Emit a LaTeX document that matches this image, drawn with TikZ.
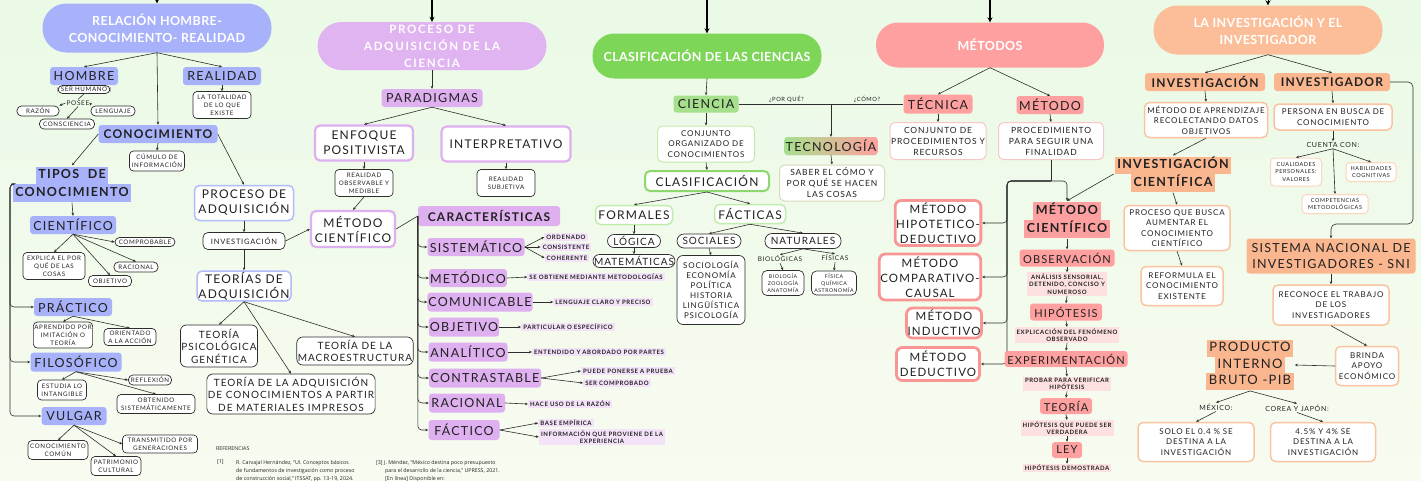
\documentclass[tikz,border=0pt]{standalone}
\usepackage{fontspec}
\usepackage{tikz}
\usetikzlibrary{arrows.meta}

\setmainfont{Lato}
\newfontfamily\labf[LetterSpace=10]{Lato}
\newfontfamily\ttlf[LetterSpace=3]{Lato}
\newfontfamily\ttlw[LetterSpace=15]{Lato}
\newfontfamily\reff{Open Sans}
\newcommand\fsz[2]{\fontsize{#1}{#2}\selectfont}
\newcommand\hb[2]{\colorbox{#1}{\strut\hspace{2.5pt}#2\hspace{2.5pt}}}
\setlength\fboxsep{0pt}

\definecolor{bgtop}{RGB}{234,250,230}
\definecolor{bgbot}{RGB}{248,251,240}
\definecolor{txt}{RGB}{34,34,34}
\definecolor{lc}{RGB}{45,45,45}
\definecolor{cblue}{RGB}{167,178,250}
\definecolor{cblueb}{RGB}{178,188,250}
\definecolor{cpurp}{RGB}{224,180,240}
\definecolor{cpurpb}{RGB}{222,176,240}
\definecolor{cpurpl}{RGB}{243,226,248}
\definecolor{cgreen}{RGB}{126,214,88}
\definecolor{cgreenl}{RGB}{166,224,140}
\definecolor{cgreenb}{RGB}{192,236,172}
\definecolor{cgreenm}{RGB}{140,216,110}
\definecolor{cpink}{RGB}{255,160,160}
\definecolor{cpinkb}{RGB}{247,198,198}
\definecolor{cpinkm}{RGB}{248,150,150}
\definecolor{cpinkl}{RGB}{253,224,224}
\definecolor{corng}{RGB}{252,190,152}
\definecolor{corngb}{RGB}{250,182,142}
\definecolor{corngl}{RGB}{250,196,160}

\tikzset{
  every node/.style={text=txt, align=center, inner sep=1pt},
  ttl/.style={fill=#1, rounded corners=22pt, text=white, font=\ttlf\bfseries\fsz{12.5}{17}},
  tag/.style={fill=#1, rounded corners=3pt, font=\labf\fsz{12.5}{15}, minimum height=18pt},
  tagb/.style={tag=#1, font=\labf\bfseries\fsz{12}{15}},
  wbox/.style={draw=#1, fill=white, line width=1.5pt, rounded corners=5pt, font=\labf\fsz{12}{15}},
  sbox/.style={draw=#1, fill=white, line width=1pt, rounded corners=5pt, font=\labf\fsz{8}{10.5}},
  dbox/.style={draw=lc, fill=white, line width=0.7pt, rounded corners=4pt, font=\labf\fsz{6.2}{8}},
  mbox/.style={dbox, font=\labf\fsz{10}{12.5}, rounded corners=6pt},
  pill/.style={dbox, rounded corners=4.5pt, inner ysep=0.5pt},
  hl/.style={fill=#1, font=\labf\bfseries\fsz{6}{7.5}, inner xsep=2pt, inner ysep=1.3pt},
  plain/.style={font=\labf\fsz{6.5}{8}},
  arr/.style={draw=lc, line width=0.6pt, -{Stealth[length=3pt,width=2.6pt]}},
  ln/.style={draw=lc, line width=0.6pt},
  toparr/.style={draw=black, line width=1.6pt, -{Stealth[length=5pt,width=5pt]}},
}

\begin{document}
\begin{tikzpicture}[x=1pt,y=-1pt]
\shade[top color=bgtop,bottom color=bgbot] (0,0) rectangle (1421,480);
\useasboundingbox (0,0) rectangle (1421,480);

% titles
\coordinate (top1) at (157,-6);
\coordinate (top2) at (432,-6);
\coordinate (top3) at (707,-6);
\coordinate (top4) at (990,-6);
\coordinate (top5) at (1268,-6);
\node[ttl=cblue,minimum width=229pt,minimum height=49pt,rounded corners=24pt] (t1) at (157,28) {RELACIÓN HOMBRE-\\CONOCIMIENTO- REALIDAD};
\node[ttl=cpurp,font=\ttlw\bfseries\fsz{11.5}{17},minimum width=229pt,minimum height=48pt,rounded corners=24pt] (t2) at (432,46) {PROCESO DE\\ADQUISICIÓN DE LA\\CIENCIA};
\node[ttl=cgreen,minimum width=229pt,minimum height=45pt] (t3) at (707,56) {CLASIFICACIÓN DE LAS CIENCIAS};
\node[ttl=cpink,minimum width=228pt,minimum height=45pt] (t4) at (990,45) {MÉTODOS};
\node[ttl=corng,minimum width=229pt,minimum height=49pt,rounded corners=24pt] (t5) at (1268,30) {LA INVESTIGACIÓN Y EL\\INVESTIGADOR};
\draw[toparr,line width=0.8pt] (top1) -- (t1.north);
\draw[toparr] (top2) -- (t2.north);
\draw[toparr] (top3) -- (t3.north);
\draw[toparr] (top4) -- (t4.north);
\draw[toparr,line width=0.8pt] (top5) -- (t5.north);

% relacion hombre - conocimiento - realidad
\node[tag=cblue,minimum width=68pt] (hombre) at (84,76) {HOMBRE};
\node[tag=cblue,minimum width=78pt] (realidad) at (222,76) {REALIDAD};
\node[pill,minimum width=52pt,minimum height=8pt] (serh) at (84,89.5) {SER HUMANO};
\node[plain] (posee) at (78,103) {POSEE};
\node[pill,minimum width=42pt,minimum height=10pt] (razon) at (38,111) {RAZÓN};
\node[pill,minimum width=44pt,minimum height=10pt] (lenguaje) at (113,111) {LENGUAJE};
\node[pill,minimum width=55pt,minimum height=10pt] (consc) at (67,124) {CONSCIENCIA};
\node[dbox,minimum width=58pt,minimum height=27pt] (totalidad) at (222,105) {LA TOTALIDAD\\DE LO QUE\\EXISTE};
\node[tagb=cblue,minimum width=119pt] (conoc) at (158,134) {CONOCIMIENTO};
\node[dbox,minimum width=55pt,minimum height=20pt] (cumulo) at (157,161) {CÚMULO DE\\INFORMACIÓN};
\node[font=\labf\bfseries\fsz{12.5}{17.5}] (tipos) at (72,184) {\hb{cblue}{TIPOS\ \ DE}\\\hb{cblue}{CONOCIMIENTO}};
\node[wbox=cblueb,minimum width=99pt,minimum height=35pt] (procadq) at (244,203) {PROCESO DE\\ADQUISICIÓN};

\draw[arr] (t1.south) -- (hombre.north);
\draw[arr] (t1.south) -- (realidad.north);
\draw[arr] (t1.south) -- (conoc.north);
\draw[arr] (realidad.south) -- (totalidad.north);
\draw[ln] (serh.south) -- (posee.north);
\draw[arr] (posee.west) -- (razon.north east);
\draw[arr] (posee.east) -- (lenguaje.north west);
\draw[arr] (posee.south) -- (consc.north);
\draw[arr] (conoc.south) -- (cumulo.north);
\draw[arr] (conoc.west) -- (tipos.north);
\draw[arr] (conoc.east) -- (procadq.north);

% tipos de conocimiento
\node[tag=cblue,minimum width=86pt] (cientif) at (73,225) {CIENTÍFICO};
\node[pill,minimum width=60pt,minimum height=9pt] (comprob) at (145,242) {COMPROBABLE};
\node[dbox,minimum width=62pt,minimum height=27pt] (explica) at (54,266) {EXPLICA EL POR\\QUÉ DE LAS\\COSAS};
\node[pill,minimum width=44pt,minimum height=10pt] (racional1) at (136,267) {RACIONAL};
\node[pill,minimum width=43pt,minimum height=11pt] (objetivo1) at (110,281) {OBJETIVO};
\node[tag=cblue,minimum width=78pt] (practico) at (73,307) {PRÁCTICO};
\node[dbox,minimum width=58pt,minimum height=26pt] (aprendido) at (63,335) {APRENDIDO POR\\IMITACIÓN O\\TEORÍA};
\node[dbox,minimum width=52pt,minimum height=17pt] (orientado) at (130,337) {ORIENTADO\\A LA ACCIÓN};
\node[tag=cblue,minimum width=91pt,minimum height=19pt] (filos) at (76,362) {FILOSÓFICO};
\node[dbox,minimum width=49pt,minimum height=20pt] (estudia) at (62,390) {ESTUDIA LO\\INTANGIBLE};
\node[pill,minimum width=43pt,minimum height=10pt] (reflexion) at (150,380) {REFLEXIÓN};
\node[dbox,minimum width=78pt,minimum height=19pt] (obtenido) at (156,404) {OBTENIDO\\SISTEMÁTICAMENTE};
\node[tag=cblue,minimum width=65pt] (vulgar) at (74,416) {VULGAR};
\node[dbox,minimum width=60pt,minimum height=19pt] (comun) at (58,450) {CONOCIMIENTO\\COMÚN};
\node[dbox,minimum width=75pt,minimum height=18pt] (transm) at (160,444) {TRANSMITIDO POR\\GENERACIONES};
\node[dbox,minimum width=50pt,minimum height=19pt] (patrim) at (116,466) {PATRIMONIO\\CULTURAL};
\coordinate (brk) at (10,184);

\draw[arr] (tipos.south) -- (cientif.north);
\draw[arr,rounded corners=4pt] (tipos.west) -- (brk) |- (practico.west);
\draw[arr,rounded corners=4pt] (tipos.west) -- (brk) |- (filos.west);
\draw[arr,rounded corners=4pt] (tipos.west) -- (brk) |- (vulgar.west);
\draw[arr] (cientif.south) -- (explica.north);
\draw[arr] (cientif.south) -- (objetivo1.north);
\draw[arr] (cientif.south) -- (racional1.north);
\draw[arr] (cientif.south) -- (comprob.west);
\draw[arr] (practico.south) -- (aprendido.north);
\draw[arr] (practico.south) -- (orientado.north);
\draw[arr] (filos.south) -- (estudia.north);
\draw[arr] (filos.south) -- (reflexion.west);
\draw[arr] (filos.south) -- (obtenido.north);
\draw[arr] (vulgar.south) -- (comun.north);
\draw[arr] (vulgar.south) -- (transm.west);
\draw[arr] (vulgar.south) -- (patrim.north);

% proceso de adquisicion
\node[pill,font=\labf\fsz{7.5}{9},minimum width=82pt,minimum height=17pt,rounded corners=5pt] (invest1) at (244,241) {INVESTIGACIÓN};
\node[wbox=cblueb,minimum width=94pt,minimum height=29pt] (teorias) at (244,286) {TEORÍAS DE\\ADQUISICIÓN};
\node[mbox,minimum width=77pt,minimum height=42pt] (psico) at (219,346) {TEORÍA\\PSICOLÓGICA\\GENÉTICA};
\node[mbox,minimum width=114pt,minimum height=28pt] (macro) at (355,351) {TEORÍA DE LA\\MACROESTRUCTURA};
\node[mbox,minimum width=164pt,minimum height=40pt] (impresos) at (291,394) {TEORÍA DE LA ADQUISICIÓN\\DE CONOCIMIENTOS A PARTIR\\DE MATERIALES IMPRESOS};
\draw[arr] (procadq.south) -- (invest1.north);
\draw[arr] (invest1.south) -- (teorias.north);
\draw[arr] (teorias.south) -- (psico.north);
\draw[arr] (teorias.south) -- (impresos.north);
\draw[arr] (teorias.south) -- (macro.north);

% proceso de adquisicion de la ciencia
\node[tag=cpurpb,minimum width=101pt] (paradig) at (432,98) {PARADIGMAS};
\node[wbox=cpurpb,line width=2.2pt,minimum width=98pt,minimum height=35pt] (enfoque) at (364,143) {ENFOQUE\\POSITIVISTA};
\node[wbox=cpurpb,line width=2.2pt,minimum width=129pt,minimum height=35pt] (interp) at (506,144) {INTERPRETATIVO};
\node[dbox,minimum width=58pt,minimum height=27pt] (realobs) at (364,183) {REALIDAD\\OBSERVABLE Y\\MEDIBLE};
\node[dbox,minimum width=58pt,minimum height=27pt] (realsub) at (506,183) {REALIDAD\\SUBJETIVA};
\node[wbox=cpurpb,line width=2.2pt,minimum width=84pt,minimum height=36pt] (metcient1) at (353,229) {MÉTODO\\CIENTÍFICO};
\node[tagb=cpurpb,minimum width=142pt,minimum height=20pt] (caract) at (489,216) {CARACTERÍSTICAS};
\draw[arr] (t2.south) -- (paradig.north);
\draw[arr] (paradig.south) -- (enfoque.north);
\draw[arr] (paradig.south) -- (interp.north);
\draw[arr] (enfoque.south) -- (realobs.north);
\draw[arr] (interp.south) -- (realsub.north);
\draw[arr] (realobs.south) -- (metcient1.north);
\draw[arr] (invest1.east) -- (metcient1.west);
\draw[ln] (metcient1.east) -- (caract.west);

\node[tag=cpurpb,minimum width=97pt] (sist) at (476,247) {SISTEMÁTICO};
\node[tag=cpurpb,minimum width=77pt] (metod) at (468,278) {METÓDICO};
\node[tag=cpurpb,minimum width=103pt,minimum height=19pt] (comun2) at (480,302) {COMUNICABLE};
\node[tag=cpurpb,minimum width=70pt,minimum height=19pt] (objet2) at (464,327) {OBJETIVO};
\node[tag=cpurpb,minimum width=79pt,minimum height=19pt] (analit) at (468,352) {ANALÍTICO};
\node[tag=cpurpb,minimum width=112pt,minimum height=19pt] (contr) at (485,378) {CONTRASTABLE};
\node[tag=cpurpb,minimum width=76pt,minimum height=19pt] (racion2) at (467,403) {RACIONAL};
\node[tag=cpurpb,minimum width=71pt,minimum height=20pt] (fact) at (464,430) {FÁCTICO};
\draw[arr,rounded corners=4pt] (caract.west) |- (sist.west);
\draw[arr,rounded corners=4pt] (caract.west) |- (metod.west);
\draw[arr,rounded corners=4pt] (caract.west) |- (comun2.west);
\draw[arr,rounded corners=4pt] (caract.west) |- (objet2.west);
\draw[arr,rounded corners=4pt] (caract.west) |- (analit.west);
\draw[arr,rounded corners=4pt] (caract.west) |- (contr.west);
\draw[arr,rounded corners=4pt] (caract.west) |- (racion2.west);
\draw[arr,rounded corners=4pt] (caract.west) |- (fact.west);

\node[hl=cpurpl] (ordenado) at (566,237) {ORDENADO};
\node[hl=cpurpl] (consist) at (566,247) {CONSISTENTE};
\node[hl=cpurpl] (coher) at (567,258) {COHERENTE};
\node[hl=cpurpl] (smet) at (596,277) {SE OBTIENE MEDIANTE METODOLOGÍAS};
\node[hl=cpurpl] (lcp) at (603,302) {LENGUAJE CLARO Y PRECISO};
\node[hl=cpurpl] (poe) at (568,327) {PARTICULAR O ESPECÍFICO};
\node[hl=cpurpl] (eyap) at (599,352) {ENTENDIDO Y ABORDADO POR PARTES};
\node[hl=cpurpl] (ppp) at (628,371) {PUEDE PONERSE A PRUEBA};
\node[hl=cpurpl] (scomp) at (617,383) {SER COMPROBADO};
\node[hl=cpurpl] (hur) at (570,404) {HACE USO DE LA RAZÓN};
\node[hl=cpurpl] (bemp) at (566,423) {BASE EMPÍRICA};
\node[hl=cpurpl] (info) at (602,437) {INFORMACIÓN QUE PROVIENE DE LA\\EXPERIENCIA};
\draw[arr] (sist.east) -- (ordenado.west);
\draw[arr] (sist.east) -- (consist.west);
\draw[arr] (sist.east) -- (coher.west);
\draw[arr] (metod.east) -- (smet.west);
\draw[arr] (comun2.east) -- (lcp.west);
\draw[arr] (objet2.east) -- (poe.west);
\draw[arr] (analit.east) -- (eyap.west);
\draw[arr] (contr.east) -- (ppp.west);
\draw[arr] (contr.east) -- (scomp.west);
\draw[arr] (racion2.east) -- (hur.west);
\draw[arr] (fact.east) -- (bemp.west);
\draw[arr] (fact.east) -- (info.west);

% referencias
\node[anchor=west,font=\reff\fsz{5.3}{8}] (refs) at (215,449) {REFERENCIAS};
\node[anchor=north west,font=\reff\fsz{5.3}{8}] (ref1n) at (216,459) {[1]};
\node[anchor=north west,align=left,font=\reff\fsz{5.3}{8}] (ref1) at (235,459) {R. Carvajal Hernández, “UI. Conceptos básicos\\de fundamentos de investigación como proceso\\de construcción social,” ITSSAT, pp. 13-19, 2024.};
\node[anchor=north west,align=left,font=\reff\fsz{5.3}{8}] (ref3) at (375,459) {[3] J. Méndez, “México destina poco presupuesto\\\hspace*{9pt}para el desarrollo de la ciencia,” UPRESS, 2021.\\\hspace*{9pt}[En línea] Disponible en:};

% clasificacion de las ciencias
\node[tag=cgreenl,minimum width=65pt,minimum height=17pt] (ciencia) at (706,104) {CIENCIA};
\node[sbox=cgreenb,minimum width=97pt,minimum height=36pt] (conj) at (706,144) {CONJUNTO\\ORGANIZADO DE\\CONOCIMIENTOS};
\node[wbox=cgreenm,line width=2pt,minimum width=124pt,minimum height=20pt] (clasif) at (707,181) {CLASIFICACIÓN};
\node[wbox=cgreenb,minimum width=77pt,minimum height=19pt] (formales) at (634,215) {FORMALES};
\node[wbox=cgreenb,minimum width=71pt,minimum height=19pt] (facticas) at (750,214) {FÁCTICAS};
\node[pill,font=\labf\fsz{10}{12},rounded corners=6.5pt,minimum width=53pt,minimum height=13pt] (logica) at (634,241) {LÓGICA};
\node[pill,font=\labf\fsz{10}{12},rounded corners=6.5pt,minimum width=81pt,minimum height=13pt] (matem) at (634,261) {MATEMÁTICAS};
\node[pill,font=\labf\fsz{10}{12},rounded corners=7pt,minimum width=64pt,minimum height=14pt] (sociales) at (709,241) {SOCIALES};
\node[pill,font=\labf\fsz{10}{12},rounded corners=7pt,minimum width=76pt,minimum height=15pt] (naturales) at (803,241) {NATURALES};
\node[dbox,font=\labf\fsz{8}{10},rounded corners=6pt,minimum width=68pt,minimum height=69pt] (socio) at (711,290) {SOCIOLOGÍA\\ECONOMÍA\\POLÍTICA\\HISTORIA\\LINGÜÍSTICA\\PSICOLOGÍA};
\node[plain] (biol) at (780,259) {BIOLÓGICAS};
\node[plain] (fisicas) at (835,258) {FÍSICAS};
\node[dbox,font=\labf\fsz{5.2}{7},rounded corners=5pt,minimum width=42pt,minimum height=25pt] (biobox) at (783,283) {BIOLOGÍA\\ZOOLOGÍA\\ANATOMÍA};
\node[dbox,font=\labf\fsz{5.2}{7},rounded corners=5pt,minimum width=45pt,minimum height=24pt] (fisbox) at (834,283) {FÍSICA\\QUÍMICA\\ASTRONOMÍA};
\node[tag=cgreenl,left color=cgreenl,right color=cpink,minimum width=93pt] (tecno) at (831,146) {TECNOLOGÍA};
\node[sbox=cgreenb!50!cpinkb,font=\labf\fsz{8.5}{11},minimum width=105pt,minimum height=36pt] (saber) at (832,183) {SABER EL CÓMO Y\\POR QUÉ SE HACEN\\LAS COSAS};
\coordinate (tj) at (831,104);

\draw[arr] (t3.south) -- (ciencia.north);
\draw[arr] (ciencia.south) -- (conj.north);
\draw[arr] (conj.south) -- (clasif.north);
\draw[arr] (clasif.south) -- (formales.north);
\draw[arr] (clasif.south) -- (facticas.north);
\draw[arr] (formales.south) -- (logica.north);
\draw[arr] (logica.south) -- (matem.north);
\draw[arr] (facticas.south) -- (sociales.north);
\draw[arr] (facticas.south) -- (naturales.north);
\draw[arr] (sociales.south) -- (socio.north);
\draw[arr] (naturales.south) -- (biol.north);
\draw[arr] (naturales.south) -- (fisicas.north);
\draw[arr] (biol.south) -- (biobox.north);
\draw[arr] (fisicas.south) -- (fisbox.north);
\draw[arr] (tj) -- (tecno.north);
\draw[arr] (tecno.south) -- (saber.north);

% metodos
\node[tag=cpink,minimum width=69pt,minimum height=19pt] (tecnica) at (938,104) {TÉCNICA};
\node[tag=cpink,minimum width=67pt] (metodo) at (1050,105) {MÉTODO};
\draw[ln] (ciencia.east) -- (tecnica.west) node[pos=0.29,above,plain,font=\labf\fsz{5.8}{7}] {¿POR QUÉ?} node[pos=0.78,above,plain,font=\labf\fsz{5.8}{7}] {¿CÓMO?};
\node[sbox=cpinkb,font=\labf\fsz{8.5}{11},minimum width=96pt,minimum height=37pt] (cdp) at (938,141) {CONJUNTO DE\\PROCEDIMIENTOS Y\\RECURSOS};
\node[sbox=cpinkb,font=\labf\fsz{8.5}{11},minimum width=105pt,minimum height=37pt] (psf) at (1051,141) {PROCEDIMIENTO\\PARA SEGUIR UNA\\FINALIDAD};
\node[wbox=cpinkm,line width=2.8pt,font=\labf\fsz{11.5}{15},rounded corners=6pt,minimum width=82pt,minimum height=45pt] (hd) at (938,223) {MÉTODO\\HIPOTETICO-\\DEDUCTIVO};
\node[wbox=cpinkm,line width=2.8pt,font=\labf\fsz{11.5}{15},rounded corners=6pt,minimum width=98pt,minimum height=46pt] (cc) at (930,277) {MÉTODO\\COMPARATIVO-\\CAUSAL};
\node[wbox=cpinkm,line width=2.8pt,font=\labf\fsz{11.5}{15},rounded corners=6pt,minimum width=72pt,minimum height=30pt] (ind) at (944,323) {MÉTODO\\INDUCTIVO};
\node[wbox=cpinkm,line width=2.8pt,font=\labf\fsz{11.5}{15},rounded corners=6pt,minimum width=83pt,minimum height=33pt] (ded) at (938,364) {MÉTODO\\DEDUCTIVO};
\node[font=\labf\bfseries\fsz{12.5}{18}] (metcient2) at (1067,220) {\hb{cpink}{MÉTODO}\\\hb{cpink}{CIENTÍFICO}};
\coordinate (sp) at (1051,181);
\coordinate (vl) at (1007,181);

\draw[arr] (t4.south) -- (tecnica.north);
\draw[arr] (t4.south) -- (metodo.north);
\draw[arr] (tecnica.south) -- (cdp.north);
\draw[arr] (metodo.south) -- (psf.north);
\draw[ln,rounded corners=4pt] (psf.south) -- (sp);
\draw[arr,rounded corners=4pt] (sp) -| (metcient2.north);
\draw[arr,rounded corners=4pt] (sp) -- (vl) |- (hd.east);
\draw[arr,rounded corners=4pt] (sp) -- (vl) |- (cc.east);
\draw[arr,rounded corners=4pt] (sp) -- (vl) |- (ind.east);
\draw[arr,rounded corners=4pt] (sp) -- (vl) |- (ded.east);

\node[tag=cpink,font=\labf\fsz{11}{13},minimum width=95pt,minimum height=17pt] (obs) at (1067,258) {OBSERVACIÓN};
\node[hl=cpinkl] (asd) at (1067,284) {ANÁLISIS SENSORIAL,\\DETENIDO, CONCISO Y\\NUMEROSO};
\node[tag=cpink,font=\labf\fsz{11}{13},minimum width=72pt,minimum height=17pt] (hip) at (1066,312) {HIPÓTESIS};
\node[hl=cpinkl] (expl) at (1067,335) {EXPLICACIÓN DEL FENÓMENO\\OBSERVADO};
\node[tag=cpink,font=\labf\fsz{11}{13},minimum width=123pt,minimum height=16pt] (exper) at (1066,359) {EXPERIMENTACIÓN};
\node[hl=cpinkl] (probar) at (1067,384) {PROBAR PARA VERIFICAR\\HIPÓTESIS};
\node[tag=cpink,font=\labf\fsz{11}{13},minimum width=52pt,minimum height=16pt] (teoria) at (1066,406) {TEORÍA};
\node[hl=cpinkl] (hqps) at (1067,428) {HIPÓTESIS QUE PUEDE SER\\VERDADERA};
\node[tag=cpink,font=\labf\fsz{11}{13},minimum width=30pt,minimum height=16pt] (ley) at (1067,450) {LEY};
\node[hl=cpinkl] (hdem) at (1067,468) {HIPÓTESIS DEMOSTRADA};
\draw[arr] (metcient2.south) -- (obs.north);
\draw[arr] (obs.south) -- (asd.north);
\draw[arr] (asd.south) -- (hip.north);
\draw[arr] (hip.south) -- (expl.north);
\draw[arr] (expl.south) -- (exper.north);
\draw[arr] (exper.south) -- (probar.north);
\draw[arr] (probar.south) -- (teoria.north);
\draw[arr] (teoria.south) -- (hqps.north);
\draw[arr] (hqps.south) -- (ley.north);
\draw[arr] (ley.south) -- (hdem.north);

% la investigacion y el investigador
\node[tagb=corngb,minimum width=120pt] (inv) at (1205,82) {INVESTIGACIÓN};
\node[tagb=corngb,minimum width=116pt] (invr) at (1332,82) {INVESTIGADOR};
\node[sbox=corngl,line width=1.5pt,minimum width=123pt,minimum height=35pt] (mda) at (1206,120) {MÉTODO DE APRENDIZAJE\\RECOLECTANDO DATOS\\OBJETIVOS};
\node[sbox=corngl,line width=1.5pt,minimum width=118pt,minimum height=26pt] (pbc) at (1333,117) {PERSONA EN BUSCA DE\\CONOCIMIENTO};
\node[plain,font=\labf\fsz{7}{9}] (cuenta) at (1333,145) {CUENTA CON:};
\node[sbox=corngl!70!white,font=\labf\fsz{5.5}{7.5},rounded corners=4pt,minimum width=51pt,minimum height=28pt] (cual) at (1296,172) {CUALIDADES\\PERSONALES:\\VALORES};
\node[sbox=corngl!70!white,font=\labf\fsz{5.5}{7.5},rounded corners=4pt,minimum width=50pt,minimum height=19pt] (habil) at (1371,172) {HABILIDADES\\COGNITIVAS};
\node[sbox=corngl!70!white,font=\labf\fsz{5.5}{7.5},rounded corners=4pt,minimum width=66pt,minimum height=19pt] (compet) at (1335,204) {COMPETENCIAS\\METODOLÓGICAS};
\node[font=\labf\bfseries\fsz{12.5}{17.5}] (invcient) at (1173,174) {\hb{corngb}{INVESTIGACIÓN}\\\hb{corngb}{CIENTÍFICA}};
\node[sbox=corngl,line width=1.5pt,minimum width=106pt,minimum height=45pt] (pqb) at (1177,228) {PROCESO QUE BUSCA\\AUMENTAR EL\\CONOCIMIENTO\\CIENTÍFICO};
\node[sbox=corngl,line width=1.5pt,minimum width=82pt,minimum height=39pt] (refor) at (1182,286) {REFORMULA EL\\CONOCIMIENTO\\EXISTENTE};
\node[tag=corngb,font=\labf\fsz{12.5}{16},minimum width=169pt,minimum height=35pt] (sni) at (1331,256) {SISTEMA NACIONAL DE\\INVESTIGADORES - SNI};
\node[sbox=corngl,line width=1.5pt,minimum width=116pt,minimum height=40pt] (rec) at (1331,305) {RECONOCE EL TRABAJO\\DE LOS\\INVESTIGADORES};
\node[sbox=corngl,line width=1.5pt,minimum width=63pt,minimum height=39pt] (brinda) at (1367,366) {BRINDA\\APOYO\\ECONÓMICO};
\node[font=\labf\fsz{13}{16.5}] (pib) at (1250,365) {\hb{corngb}{PRODUCTO}\\\hb{corngb}{INTERNO}\\\hb{corngb}{BRUTO -PIB}};
\node[plain,font=\labf\fsz{7}{9}] (mex) at (1216,407) {MÉXICO:};
\node[plain,font=\labf\fsz{7}{9}] (corea) at (1297,408) {COREA Y JAPÓN:};
\node[sbox=corngl,line width=1.5pt,minimum width=116pt,minimum height=39pt] (solo) at (1196,442) {SOLO EL 0.4 \% SE\\DESTINA A LA\\INVESTIGACIÓN};
\node[sbox=corngl,line width=1.5pt,minimum width=105pt,minimum height=39pt] (cuatro) at (1323,442) {4.5\% Y 4\% SE\\DESTINA A LA\\INVESTIGACIÓN};
\coordinate (rc) at (1413,224);

\draw[arr] (t5.south) -- (inv.north);
\draw[arr] (t5.south) -- (invr.north);
\draw[arr] (inv.south) -- (mda.north);
\draw[arr] (mda.south) -- (invcient.north);
\draw[arr] (invcient.west) -- (metcient2.north);
\draw[arr] (invcient.south) -- (pqb.north);
\draw[arr] (pqb.south) -- (refor.north);
\draw[arr] (invr.south) -- (pbc.north);
\draw[arr] (pbc.south) -- (cuenta.north);
\draw[arr] (cuenta.south) -- (cual.north);
\draw[arr] (cuenta.south) -- (compet.north);
\draw[arr] (cuenta.south) -- (habil.north);
\draw[arr,rounded corners=5pt] (invr.east) -| (rc) -| (sni.north);
\draw[arr] (sni.south) -- (rec.north);
\draw[arr] (rec.south) -- (brinda.north);
\draw[arr] (brinda.west) -- (pib.east);
\draw[arr] (pib.south) -- (mex.north);
\draw[arr] (pib.south) -- (corea.north);
\draw[arr] (mex.south) -- (solo.north);
\draw[arr] (corea.south) -- (cuatro.north);
\end{tikzpicture}
\end{document}
